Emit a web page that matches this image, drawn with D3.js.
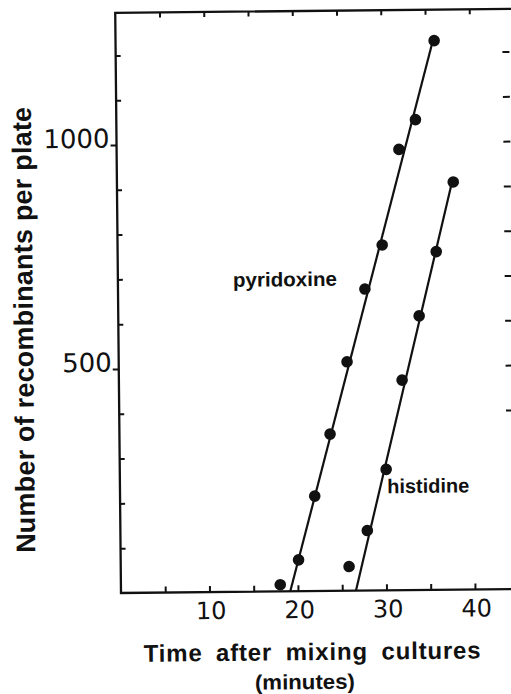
<!DOCTYPE html>
<html>
<head>
<meta charset="utf-8">
<script src="https://cdnjs.cloudflare.com/ajax/libs/d3/7.8.5/d3.min.js"></script>
<style>
  html, body { margin: 0; padding: 0; background: #fff; }
  svg { display: block; }
</style>
</head>
<body>
<div id="Chart"></div>
<script>
// data
var pyrTime = [18.0, 20.1, 22.0, 23.8, 25.8, 27.9, 29.9, 31.9, 33.8, 36.0];
var pyrCount = [15, 70, 212, 350, 511, 673, 771, 984, 1050, 1226];
var histTime = [25.8, 27.9, 30.1, 32.0, 34.0, 36.0, 38.0];
var histCount = [54, 134, 270, 469, 612, 755, 910];
// fitted lines (start, end)
var pyrFitTime = [19.13, 35.8];
var pyrFitCount = [0, 1222];
var histFitTime = [26.55, 37.8];
var histFitCount = [0, 905];
// ticks
var xLabelTicks = [10, 20, 30, 40];
var xMinorTicks = [5, 10, 15, 20, 25, 30, 35, 40];
var yLabelTicks = [500, 1000];
var yMinorTicks = [100, 200, 300, 400, 600, 700, 800, 900, 1100, 1200];
var yRightTicks = [400, 500, 600, 700, 800, 900, 1000, 1100, 1200];

var svgWidth = 511;
var svgHeight = 694;
var originX = 121;
var originY = 593;

var svg = d3.select("#Chart")
  .append("svg")
  .attr("width", svgWidth)
  .attr("height", svgHeight);

// the scan is tilted a little
var chartGroup = svg.append("g")
  .attr("transform", `rotate(-0.57, ${originX}, ${originY})`);

var xScale = d3.scaleLinear()
  .domain([0, 44.5])
  .range([originX, originX + 44.5 * 8.85]);
var yScale = d3.scaleLinear()
  .domain([0, 1295])
  .range([originY, originY - 1295 * 0.448]);

var ink = "#111";
var noDomain = function(g) { g.select(".domain").remove(); };

// frame
chartGroup.append("path")
  .attr("d", `M${xScale(47)},${yScale(1295)} L${xScale(0)},${yScale(1295)} L${xScale(0)},${yScale(0)} L${xScale(47)},${yScale(0)}`)
  .attr("fill", "none")
  .attr("stroke", ink)
  .attr("stroke-width", 2.3);

// bottom ticks (inward)
chartGroup.append("g")
  .attr("transform", `translate(0, ${yScale(0)})`)
  .call(d3.axisTop(xScale).tickValues(xMinorTicks).tickSize(6).tickFormat(""))
  .call(noDomain);
// bottom labels
var xLabels = chartGroup.append("g")
  .attr("transform", `translate(0, ${yScale(0)})`)
  .call(d3.axisBottom(xScale).tickValues(xLabelTicks).tickSize(0).tickFormat(d3.format("d")))
  .call(noDomain);
xLabels.selectAll("text")
  .attr("y", 27)
  .attr("dy", 0)
  .attr("dx", 1)
  .style("font-family", "'DejaVu Sans', sans-serif")
  .style("font-size", "24px")
  .attr("fill", ink);

// top ticks
chartGroup.append("g")
  .attr("transform", `translate(0, ${yScale(1295)})`)
  .call(d3.axisBottom(xScale).tickValues(xMinorTicks).tickSize(5).tickFormat(""))
  .call(noDomain);

// left minor ticks (inward)
chartGroup.append("g")
  .attr("transform", `translate(${xScale(0)}, 0)`)
  .call(d3.axisRight(yScale).tickValues(yMinorTicks).tickSize(5).tickFormat(""))
  .call(noDomain);
// left major ticks (outward) with labels
var yLabels = chartGroup.append("g")
  .attr("transform", `translate(${xScale(0)}, 0)`)
  .call(d3.axisLeft(yScale).tickValues(yLabelTicks).tickSize(6).tickPadding(1).tickFormat(d3.format("d")))
  .call(noDomain);
yLabels.selectAll("text")
  .attr("dy", "0.08em")
  .style("font-family", "'DejaVu Sans', sans-serif")
  .style("font-size", "26px")
  .attr("fill", ink);

// right ticks
chartGroup.append("g")
  .attr("transform", `translate(${xScale(44.5)}, 0)`)
  .call(d3.axisLeft(yScale).tickValues(yRightTicks).tickSize(7).tickFormat(""))
  .call(noDomain);

chartGroup.selectAll(".tick line")
  .attr("stroke", ink)
  .attr("stroke-width", 2);

// fitted lines
var line = d3.line()
  .x(d => xScale(d[0]))
  .y(d => yScale(d[1]));
var fits = [d3.zip(pyrFitTime, pyrFitCount), d3.zip(histFitTime, histFitCount)];
chartGroup.selectAll(".fit")
  .data(fits)
  .enter()
  .append("path")
  .attr("class", "fit")
  .attr("d", line)
  .attr("fill", "none")
  .attr("stroke", ink)
  .attr("stroke-width", 2.2);

// points
var points = d3.zip(pyrTime, pyrCount).concat(d3.zip(histTime, histCount));
chartGroup.selectAll(".point")
  .data(points)
  .enter()
  .append("circle")
  .attr("class", "point")
  .attr("cx", d => xScale(d[0]))
  .attr("cy", d => yScale(d[1]))
  .attr("r", 5.8)
  .attr("fill", ink);

// series labels
chartGroup.append("text")
  .attr("x", xScale(13.0))
  .attr("y", yScale(681))
  .attr("textLength", 104)
  .attr("lengthAdjust", "spacingAndGlyphs")
  .style("font-family", "'Liberation Sans', Arial, sans-serif")
  .style("font-weight", "bold")
  .style("font-size", "20px")
  .attr("fill", ink)
  .text("pyridoxine");
chartGroup.append("text")
  .attr("x", xScale(30.2))
  .attr("y", yScale(217))
  .attr("textLength", 82)
  .attr("lengthAdjust", "spacingAndGlyphs")
  .style("font-family", "'Liberation Sans', Arial, sans-serif")
  .style("font-weight", "bold")
  .style("font-size", "20px")
  .attr("fill", ink)
  .text("histidine");

// axis titles
chartGroup.append("text")
  .attr("transform", "translate(35.6, 329) rotate(-90)")
  .attr("text-anchor", "middle")
  .attr("textLength", 446)
  .attr("lengthAdjust", "spacing")
  .style("font-family", "'Liberation Sans', Arial, sans-serif")
  .style("font-weight", "bold")
  .style("font-size", "27px")
  .attr("fill", ink)
  .text("Number of recombinants per plate");
chartGroup.append("text")
  .attr("x", 311.5)
  .attr("y", 662)
  .attr("text-anchor", "middle")
  .attr("textLength", 337)
  .attr("lengthAdjust", "spacing")
  .style("font-family", "'Liberation Sans', Arial, sans-serif")
  .style("font-weight", "bold")
  .style("font-size", "24px")
  .style("word-spacing", "6px")
  .attr("fill", ink)
  .text("Time after mixing cultures");
chartGroup.append("text")
  .attr("x", 304)
  .attr("y", 691)
  .attr("text-anchor", "middle")
  .attr("textLength", 100)
  .attr("lengthAdjust", "spacingAndGlyphs")
  .style("font-family", "'Liberation Sans', Arial, sans-serif")
  .style("font-weight", "bold")
  .style("font-size", "21px")
  .attr("fill", ink)
  .text("(minutes)");
</script>
</body>
</html>
